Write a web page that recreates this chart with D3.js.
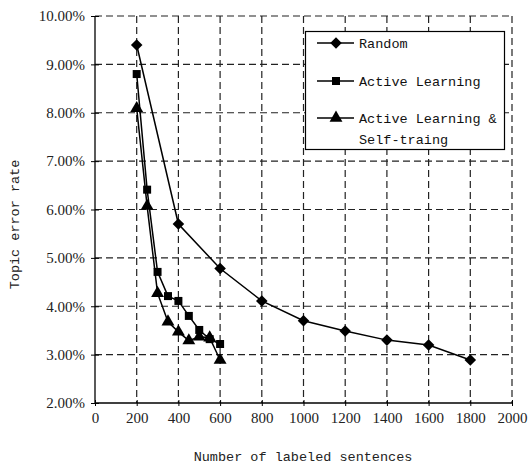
<!DOCTYPE html>
<html>
<head>
<meta charset="utf-8">
<script src="https://cdn.jsdelivr.net/npm/d3@7"></script>
<style>
  body { margin: 0; background: #fff; }
</style>
</head>
<body>
<script>
// Data
const xTicks = [0, 200, 400, 600, 800, 1000, 1200, 1400, 1600, 1800, 2000];
const yTicks = [0.02, 0.03, 0.04, 0.05, 0.06, 0.07, 0.08, 0.09, 0.10];

const randomX = [200, 400, 600, 800, 1000, 1200, 1400, 1600, 1800];
const randomY = [0.094, 0.057, 0.0478, 0.0411, 0.037, 0.0349, 0.033, 0.032, 0.0289];

const activeX = [200, 250, 300, 350, 400, 450, 500, 550, 600];
const activeY = [0.088, 0.0641, 0.0471, 0.0421, 0.0411, 0.038, 0.0351, 0.0332, 0.0322];

const selfX = [200, 250, 300, 350, 400, 450, 500, 550, 600];
const selfY = [0.0809, 0.0607, 0.0427, 0.0368, 0.0347, 0.0329, 0.0337, 0.0335, 0.0289];

const seriesNames = ["Random", "Active Learning", "Active Learning &|Self-traing"];
const seriesSymbols = [d3.symbolDiamond2, d3.symbolSquare, d3.symbolTriangle];

const serif = "'Liberation Serif', 'Times New Roman', serif";
const mono = "'Liberation Mono', monospace";

// Chart area
const svgWidth = 531;
const svgHeight = 465;
const margin = { top: 16, right: 19, bottom: 62, left: 95 };
const chartWidth = svgWidth - margin.left - margin.right;
const chartHeight = svgHeight - margin.top - margin.bottom;

let svg = d3.select("body")
  .append("svg")
  .attr("width", svgWidth)
  .attr("height", svgHeight);

let chartGroup = svg.append("g")
  .attr("transform", `translate(${margin.left}, ${margin.top})`);

let xScale = d3.scaleLinear().domain([0, 2000]).range([0, chartWidth]);
let yScale = d3.scaleLinear().domain([0.02, 0.10]).range([chartHeight, 0]);

// Dashed grid
chartGroup.append("g")
  .selectAll("line")
  .data(xTicks.slice(1))
  .join("line")
  .attr("x1", d => xScale(d)).attr("x2", d => xScale(d))
  .attr("y1", 0).attr("y2", chartHeight)
  .attr("stroke", "#222").attr("stroke-width", 1.2)
  .attr("stroke-dasharray", "7,4");

chartGroup.append("g")
  .selectAll("line")
  .data(yTicks.slice(1))
  .join("line")
  .attr("x1", 0).attr("x2", chartWidth)
  .attr("y1", d => yScale(d)).attr("y2", d => yScale(d))
  .attr("stroke", "#222").attr("stroke-width", 1.2)
  .attr("stroke-dasharray", "7,4");

// Axes
let bottomAxis = d3.axisBottom(xScale).tickValues(xTicks).tickSize(3).tickPadding(6)
  .tickFormat(d3.format("d"));
let leftAxis = d3.axisLeft(yScale).tickValues(yTicks).tickSize(4).tickPadding(6)
  .tickFormat(d3.format(".2%"));

let xAxisG = chartGroup.append("g")
  .attr("transform", `translate(0, ${chartHeight})`)
  .call(bottomAxis);
xAxisG.select(".domain").attr("d", `M0,0H${chartWidth}`).attr("stroke", "#000").attr("stroke-width", 1.3);
xAxisG.selectAll(".tick line").attr("y1", -3).attr("stroke", "#000");
xAxisG.selectAll(".tick text")
  .attr("fill", "#222")
  .style("font-family", serif)
  .style("font-size", "15px");

let yAxisG = chartGroup.append("g")
  .call(leftAxis);
yAxisG.select(".domain").attr("d", `M0,${chartHeight}V0`).attr("stroke", "#000").attr("stroke-width", 1.3);
yAxisG.selectAll(".tick line").attr("x2", 4).attr("x1", -4).attr("stroke", "#000");
yAxisG.selectAll(".tick text")
  .attr("fill", "#222")
  .style("font-family", serif)
  .style("font-size", "15px");

// Axis titles
svg.append("text")
  .attr("transform", `translate(19, ${margin.top + chartHeight / 2 + 15}) rotate(-90)`)
  .attr("text-anchor", "middle")
  .style("font-family", mono)
  .style("font-size", "13.5px")
  .attr("fill", "#222")
  .text("Topic error rate");

svg.append("text")
  .attr("x", 303)
  .attr("y", 461)
  .attr("text-anchor", "middle")
  .style("font-family", mono)
  .style("font-size", "13.5px")
  .attr("fill", "#222")
  .text("Number of labeled sentences");

// Series
let createLine = d3.line()
  .x(d => xScale(d[0]))
  .y(d => yScale(d[1]));

const seriesData = [
  d3.zip(randomX, randomY),
  d3.zip(activeX, activeY),
  d3.zip(selfX, selfY)
];
const symbolSizes = [85, 64, 72];

seriesData.forEach((pts, i) => {
  chartGroup.append("path")
    .attr("d", createLine(pts))
    .attr("fill", "none")
    .attr("stroke", "#000")
    .attr("stroke-width", 1.5);

  chartGroup.append("g")
    .selectAll("path")
    .data(pts)
    .join("path")
    .attr("transform", d => `translate(${xScale(d[0])}, ${yScale(d[1])})`)
    .attr("d", d3.symbol(seriesSymbols[i], symbolSizes[i]))
    .attr("fill", "#000");
});

// Legend
let legend = svg.append("g")
  .style("font-family", mono)
  .style("font-size", "13.5px");
legend.append("rect")
  .attr("x", 305.5).attr("y", 31.5)
  .attr("width", 199).attr("height", 118)
  .attr("fill", "#fff").attr("stroke", "#000").attr("stroke-width", 1.2);

const legendY = [43, 81, 118];
seriesNames.forEach((name, i) => {
  let g = legend.append("g").attr("transform", `translate(0, ${legendY[i]})`);
  g.append("line")
    .attr("x1", 317).attr("x2", 354)
    .attr("stroke", "#000").attr("stroke-width", 1.5);
  g.append("path")
    .attr("transform", "translate(336, 0)")
    .attr("d", d3.symbol(seriesSymbols[i], symbolSizes[i]))
    .attr("fill", "#000");
  name.split("|").forEach((part, j) => {
    g.append("text")
      .attr("x", 359)
      .attr("y", 5 + j * 21)
      .attr("fill", "#111")
      .text(part);
  });
});
</script>
</body>
</html>
